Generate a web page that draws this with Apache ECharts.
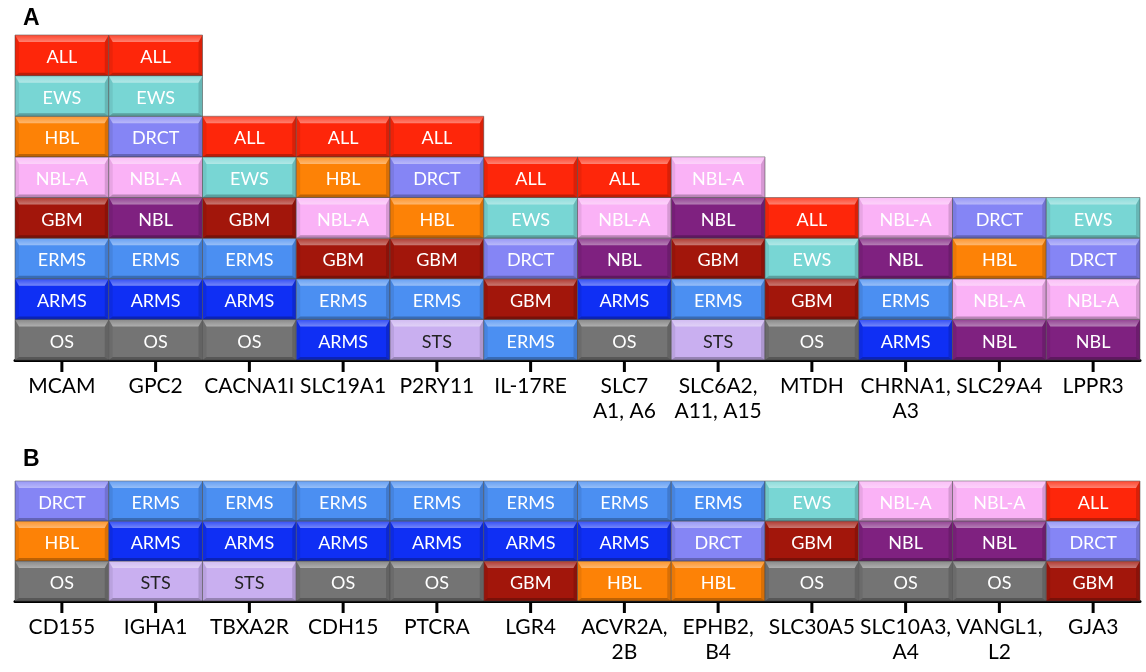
<!DOCTYPE html>
<html>
<head>
<meta charset="utf-8">
<script src="https://cdn.jsdelivr.net/npm/echarts@6/dist/echarts.min.js"></script>
<style>
  html, body { margin: 0; padding: 0; background: #fff; }
  #chart { width: 1146px; height: 672px; }
</style>
</head>
<body>
<div id="chart"></div>
<script>
// tumour types, in the order used for the colour lookup
const types = ['ALL', 'EWS', 'HBL', 'DRCT', 'NBL-A', 'GBM', 'NBL', 'ERMS', 'ARMS', 'OS', 'STS'];

// panel A genes and their stacks (bottom -> top)
const genesA = ['MCAM', 'GPC2', 'CACNA1I', 'SLC19A1', 'P2RY11', 'IL-17RE', 'SLC7\nA1, A6',
    'SLC6A2,\nA11, A15', 'MTDH', 'CHRNA1,\nA3', 'SLC29A4', 'LPPR3'];
const stacksA = [
    ['OS', 'ARMS', 'ERMS', 'GBM', 'NBL-A', 'HBL', 'EWS', 'ALL'],
    ['OS', 'ARMS', 'ERMS', 'NBL', 'NBL-A', 'DRCT', 'EWS', 'ALL'],
    ['OS', 'ARMS', 'ERMS', 'GBM', 'EWS', 'ALL'],
    ['ARMS', 'ERMS', 'GBM', 'NBL-A', 'HBL', 'ALL'],
    ['STS', 'ERMS', 'GBM', 'HBL', 'DRCT', 'ALL'],
    ['ERMS', 'GBM', 'DRCT', 'EWS', 'ALL'],
    ['OS', 'ARMS', 'NBL', 'NBL-A', 'ALL'],
    ['STS', 'ERMS', 'GBM', 'NBL', 'NBL-A'],
    ['OS', 'GBM', 'EWS', 'ALL'],
    ['ARMS', 'ERMS', 'NBL', 'NBL-A'],
    ['NBL', 'NBL-A', 'HBL', 'DRCT'],
    ['NBL', 'NBL-A', 'DRCT', 'EWS']
];

// panel B genes and their stacks (bottom -> top)
const genesB = ['CD155', 'IGHA1', 'TBXA2R', 'CDH15', 'PTCRA', 'LGR4', 'ACVR2A,\n2B', 'EPHB2,\nB4',
    'SLC30A5', 'SLC10A3,\nA4', 'VANGL1,\nL2', 'GJA3'];
const stacksB = [
    ['OS', 'HBL', 'DRCT'],
    ['STS', 'ARMS', 'ERMS'],
    ['STS', 'ARMS', 'ERMS'],
    ['OS', 'ARMS', 'ERMS'],
    ['OS', 'ARMS', 'ERMS'],
    ['GBM', 'ARMS', 'ERMS'],
    ['HBL', 'ARMS', 'ERMS'],
    ['HBL', 'DRCT', 'ERMS'],
    ['OS', 'GBM', 'EWS'],
    ['OS', 'NBL', 'NBL-A'],
    ['OS', 'NBL', 'NBL-A'],
    ['GBM', 'DRCT', 'ALL']
];

const colors = {
    'ALL': '#fe260a', 'EWS': '#78d6d4', 'HBL': '#fd8206', 'DRCT': '#8585f5',
    'NBL-A': '#fab2f6', 'GBM': '#a2160b', 'NBL': '#7f2180', 'ERMS': '#4b8ff2',
    'ARMS': '#0f2ff4', 'OS': '#747474', 'STS': '#c9aff0'
};
const darkText = ['STS'];

const toData = stacks => {
    let out = [];
    stacks.forEach((s, i) => s.forEach((t, j) => out.push([i, j, types.indexOf(t)])));
    return out;
};

function renderBlock(params, api) {
    const base = api.coord([api.value(0), api.value(1)]);
    const size = api.size([1, 1]);
    const w = size[0], h = size[1];
    const x0 = base[0] - w / 2, x1 = x0 + w;
    const y1 = base[1], y0 = y1 - h;
    const t = types[api.value(2)];
    const b = 7, bb = 3, s = 4;
    return {
        type: 'group',
        children: [{
            type: 'rect',
            shape: { x: x0, y: y0, width: w, height: h },
            style: { fill: colors[t], stroke: 'rgba(80,80,80,0.55)', lineWidth: 1 }
        }, {
            // top bevel, lighter
            type: 'polygon',
            shape: { points: [[x0, y0], [x1, y0], [x1 - s, y0 + b], [x0 + s, y0 + b]] },
            style: {
                fill: new echarts.graphic.LinearGradient(0, 0, 0, 1, [
                    { offset: 0, color: 'rgba(255,255,255,0.15)' },
                    { offset: 1, color: 'rgba(255,255,255,0.42)' }
                ])
            }
        }, {
            type: 'polygon',
            shape: { points: [[x0, y1], [x1, y1], [x1 - s, y1 - bb], [x0 + s, y1 - bb]] },
            style: { fill: 'rgba(0,0,0,0.25)' }
        }, {
            type: 'polygon',
            shape: { points: [[x0, y0], [x0 + s, y0 + b], [x0 + s, y1 - bb], [x0, y1]] },
            style: { fill: 'rgba(0,0,0,0.07)' }
        }, {
            type: 'polygon',
            shape: { points: [[x1, y0], [x1 - s, y0 + b], [x1 - s, y1 - bb], [x1, y1]] },
            style: { fill: 'rgba(0,0,0,0.14)' }
        }, {
            type: 'text',
            x: base[0],
            y: (y0 + y1) / 2 + 2,
            style: {
                text: t,
                fill: darkText.includes(t) ? '#222' : '#fff',
                fontSize: 18,
                fontFamily: 'Lato',
                align: 'center',
                verticalAlign: 'middle'
            }
        }]
    };
}

// tick mark under each column, at the category centre
function renderTick(params, api) {
    const p = api.coord([api.value(0), 0]);
    return {
        type: 'rect',
        shape: { x: p[0] - 1.5, y: p[1] + 1, width: 3, height: 11 },
        style: { fill: '#000' }
    };
}

const chart = echarts.init(document.getElementById('chart'));

const xAxisBase = {
    type: 'category',
    axisLine: { show: true, lineStyle: { color: '#000', width: 3 } },
    axisTick: { show: false },
    axisLabel: {
        interval: 0, color: '#000', fontSize: 21, fontFamily: 'Lato',
        lineHeight: 25, margin: 14
    }
};

let option = {
    animation: false,
    title: [
        { text: 'A', left: 18, top: 2, textStyle: { fontSize: 23, fontWeight: 'bold', fontFamily: 'Arial', color: '#000' } },
        { text: 'B', left: 18, top: 443, textStyle: { fontSize: 23, fontWeight: 'bold', fontFamily: 'Arial', color: '#000' } }
    ],
    grid: [
        { left: 15, right: 6, top: 35, height: 325 },
        { left: 15, right: 6, top: 481, height: 120 }
    ],
    xAxis: [
        Object.assign({}, xAxisBase, { gridIndex: 0, data: genesA }),
        Object.assign({}, xAxisBase, { gridIndex: 1, data: genesB })
    ],
    yAxis: [
        { gridIndex: 0, type: 'value', min: 0, max: 8, show: false },
        { gridIndex: 1, type: 'value', min: 0, max: 3, show: false },
        { gridIndex: 0, type: 'value', min: 0, max: 1, show: false },
        { gridIndex: 1, type: 'value', min: 0, max: 1, show: false }
    ],
    series: [
        { type: 'custom', xAxisIndex: 0, yAxisIndex: 0, renderItem: renderBlock, data: toData(stacksA), z: 1 },
        { type: 'custom', xAxisIndex: 1, yAxisIndex: 1, renderItem: renderBlock, data: toData(stacksB), z: 1 },
        { type: 'custom', xAxisIndex: 0, yAxisIndex: 2, renderItem: renderTick, data: genesA.map((g, i) => [i]), z: 20, zlevel: 1, clip: false, silent: true },
        { type: 'custom', xAxisIndex: 1, yAxisIndex: 3, renderItem: renderTick, data: genesB.map((g, i) => [i]), z: 20, zlevel: 1, clip: false, silent: true }
    ]
};

chart.setOption(option);
</script>
</body>
</html>
